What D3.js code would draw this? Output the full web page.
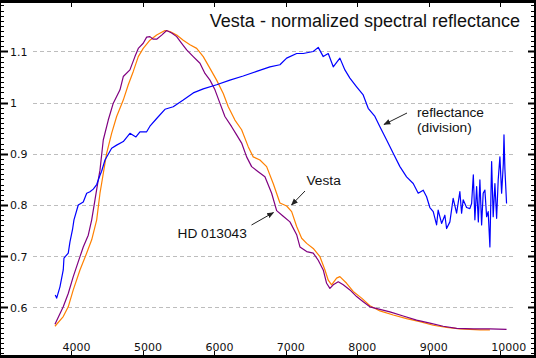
<!DOCTYPE html>
<html><head><meta charset="utf-8">
<script src="https://cdn.jsdelivr.net/npm/d3@7"></script>
<style>
html,body{margin:0;padding:0;background:#fff;}
svg{display:block;}
</style></head>
<body>
<svg id="chart" width="536" height="358"></svg>
<script>
// ---- data (wavelength in Å, normalized values) ----
const vestaWl = [3769,3885,3955,4025,4119,4213,4283,4353,4399,4422,4492,4562,4632,4725,4795,4865,4935,5004,5098,5192,5308,5378,5472,5564,5658,5752,5844,5938,6031,6124,6194,6287,6381,6473,6543,6637,6731,6823,6917,7011,7081,7151,7221,7291,7383,7477,7547,7593,7640,7710,7756,7850,7942,8060,8176,8316,8502,8689,8875,9062,9249,9435,9715,9855];
const vestaVal = [0.563,0.582,0.601,0.634,0.673,0.706,0.732,0.771,0.823,0.842,0.901,0.940,0.973,1.005,1.035,1.061,1.090,1.106,1.122,1.132,1.141,1.139,1.132,1.122,1.113,1.106,1.090,1.067,1.044,1.018,0.992,0.966,0.947,0.914,0.894,0.888,0.875,0.842,0.804,0.798,0.787,0.758,0.735,0.725,0.715,0.699,0.673,0.653,0.644,0.657,0.660,0.647,0.631,0.618,0.603,0.593,0.585,0.578,0.572,0.565,0.561,0.558,0.556,0.556];

const hdWl = [3769,3885,3955,4025,4119,4165,4235,4283,4329,4375,4399,4445,4515,4585,4679,4725,4818,4888,4935,5004,5052,5098,5144,5192,5262,5332,5402,5472,5542,5612,5704,5798,5868,5938,6008,6077,6147,6241,6311,6381,6451,6521,6613,6707,6801,6871,6963,7057,7151,7197,7291,7383,7453,7523,7570,7616,7663,7733,7803,7896,7990,8082,8176,8316,8456,8642,8829,9015,9201,9389,9621,9855,10088];
const hdVal = [0.567,0.601,0.627,0.660,0.699,0.718,0.741,0.771,0.810,0.849,0.868,0.927,0.966,0.999,1.025,1.051,1.064,1.090,1.106,1.116,1.128,1.129,1.124,1.124,1.132,1.141,1.136,1.129,1.116,1.103,1.090,1.077,1.057,1.044,1.025,0.999,0.973,0.953,0.937,0.921,0.894,0.875,0.865,0.855,0.823,0.789,0.778,0.767,0.742,0.718,0.709,0.706,0.692,0.673,0.647,0.637,0.644,0.650,0.644,0.634,0.621,0.611,0.601,0.596,0.591,0.583,0.575,0.569,0.563,0.559,0.558,0.558,0.557];

const reflWl = [3773,3793,3839,3885,3895,3955,3979,4017,4035,4095,4165,4213,4259,4305,4353,4399,4422,4469,4562,4632,4725,4818,4902,4958,5052,5098,5192,5308,5424,5564,5704,5844,6031,6217,6403,6591,6777,6917,7011,7151,7243,7383,7453,7523,7593,7663,7756,7826,7896,7990,8082,8152,8246,8316,8410,8502,8596,8689,8782,8852,8922,8969,9015,9062,9109,9131,9179,9225,9249,9295,9341,9389,9435,9459,9481,9529,9575,9599,9623,9645,9669,9693,9715,9739,9761,9785,9809,9831,9855,9879,9901,9925,9949,9971,9995,10019,10043,10052,10065,10088];
const reflVal = [0.624,0.618,0.640,0.673,0.696,0.706,0.728,0.754,0.771,0.800,0.806,0.823,0.826,0.831,0.840,0.858,0.866,0.888,0.911,0.917,0.924,0.940,0.933,0.943,0.943,0.954,0.969,0.987,0.992,1.005,1.019,1.027,1.035,1.044,1.052,1.061,1.070,1.074,1.087,1.096,1.096,1.100,1.108,1.090,1.096,1.070,1.087,1.064,1.048,1.031,1.015,0.989,0.973,0.953,0.927,0.901,0.875,0.855,0.842,0.823,0.829,0.816,0.795,0.787,0.761,0.790,0.764,0.780,0.754,0.767,0.813,0.784,0.826,0.784,0.810,0.795,0.793,0.803,0.859,0.771,0.836,0.767,0.849,0.761,0.823,0.829,0.777,0.787,0.718,0.885,0.777,0.842,0.774,0.849,0.894,0.823,0.881,0.937,0.870,0.803];

const xTicks = [4000,5000,6000,7000,8000,9000,10000];
const yTicks = [0.6,0.7,0.8,0.9,1.0,1.1];
const yTickLabels = ["0.6","0.7","0.8","0.9","1","1.1"];
const title = "Vesta - normalized spectral reflectance";

// ---- drawing ----
const W = 536, H = 358;
const svg = d3.select("#chart");
const x = d3.scaleLinear().domain([3000, 10500]).range([0, 536]);
const y = d3.scaleLinear().domain([0.5, 1.2]).range([358.5, 0.3]);

// defs: arrowhead
const defs = svg.append("defs");
defs.append("marker").attr("id","ah").attr("viewBox","0 0 10 10")
  .attr("refX",9).attr("refY",5).attr("markerWidth",7).attr("markerHeight",7)
  .attr("orient","auto").attr("markerUnits","userSpaceOnUse")
  .append("path").attr("d","M0,1 L10,5 L0,9 Z").attr("fill","#222");

// grid lines
svg.append("g").selectAll("line").data(yTicks).join("line")
  .attr("x1",33).attr("x2",515)
  .attr("y1",d=>Math.round(y(d))+0.5).attr("y2",d=>Math.round(y(d))+0.5)
  .attr("stroke","#bdbdbd").attr("stroke-width",1).attr("stroke-dasharray","4,3");

// y tick labels
svg.append("g").selectAll("text").data(yTicks).join("text")
  .attr("x",10).attr("y",d=>y(d)+4.5)
  .attr("font-family","DejaVu Sans, Verdana, sans-serif").attr("font-size",11)
  .attr("fill","#111")
  .text((d,i)=>yTickLabels[i]);

// x tick labels
svg.append("g").selectAll("text").data(xTicks).join("text")
  .attr("x",d=>x(d)-9).attr("y",350.5)
  .attr("font-family","DejaVu Sans, Verdana, sans-serif").attr("font-size",11)
  .attr("fill","#111")
  .text(d=>String(d));

// series
const line = d3.line().x(d=>x(d[0])).y(d=>y(d[1]));
const zipS = (a,b)=>a.map((v,i)=>[v,b[i]]);
const series = [
  {wl:vestaWl, v:vestaVal, c:"#ff8000"},
  {wl:hdWl, v:hdVal, c:"#800080"},
  {wl:reflWl, v:reflVal, c:"#0000ff"}
];
svg.append("g").selectAll("path").data(series).join("path")
  .attr("d",s=>line(zipS(s.wl,s.v)))
  .attr("fill","none").attr("stroke",s=>s.c).attr("stroke-width",1.2)
  .attr("stroke-linejoin","round");

// axis ticks (left minor/major, right, top, bottom)
const yMinor = d3.range(50,121).map(d=>d/100);
const yAx = svg.append("g").attr("stroke","#000");
yAx.selectAll("line.l").data(yMinor).join("line").attr("class","l")
  .attr("x1",0).attr("x2",d=>(Math.round(d*100)%10===0)?8:4)
  .attr("y1",d=>Math.round(y(d))+0.5).attr("y2",d=>Math.round(y(d))+0.5)
  .attr("stroke-width",d=>(Math.round(d*100)%10===0)?2:1);
yAx.selectAll("line.r").data(yMinor).join("line").attr("class","r")
  .attr("x2",534).attr("x1",d=>(Math.round(d*100)%10===0)?528:531)
  .attr("y1",d=>Math.round(y(d))+0.5).attr("y2",d=>Math.round(y(d))+0.5)
  .attr("stroke-width",d=>(Math.round(d*100)%10===0)?2:1);
const xAx = svg.append("g").attr("stroke","#000");
xAx.selectAll("line.t").data(xTicks).join("line").attr("class","t")
  .attr("x1",d=>Math.round(x(d))+0.5).attr("x2",d=>Math.round(x(d))+0.5)
  .attr("y1",3).attr("y2",7).attr("stroke-width",1);
xAx.selectAll("line.b").data(xTicks).join("line").attr("class","b")
  .attr("x1",d=>Math.round(x(d))+0.5).attr("x2",d=>Math.round(x(d))+0.5)
  .attr("y1",355).attr("y2",351).attr("stroke-width",1);

// frame
svg.append("rect").attr("x",0).attr("y",0).attr("width",W).attr("height",3).attr("fill","#000");
svg.append("rect").attr("x",0).attr("y",H-3).attr("width",W).attr("height",3).attr("fill","#000");
svg.append("rect").attr("x",0).attr("y",0).attr("width",1).attr("height",H).attr("fill","#000");
svg.append("rect").attr("x",W-2).attr("y",0).attr("width",2).attr("height",H).attr("fill","#000");

// title
svg.append("text").attr("x",520).attr("y",27).attr("text-anchor","end")
  .attr("font-family","Liberation Sans, Arial, sans-serif").attr("font-size",18)
  .attr("fill","#111").text(title);

// annotations
const ann = svg.append("g").attr("font-family","Liberation Sans, Arial, sans-serif")
  .attr("font-size",13.7).attr("fill","#111");
ann.append("text").attr("x",417).attr("y",117).text("reflectance");
ann.append("text").attr("x",417).attr("y",132).text("(division)");
ann.append("text").attr("x",306.5).attr("y",184.5).text("Vesta");
ann.append("text").attr("x",177.5).attr("y",237.5).text("HD 013043");

const arrows = [[407,113,384,124.5],[305,191,291.5,205],[251.5,225,273.5,212.5]];
svg.append("g").selectAll("line").data(arrows).join("line")
  .attr("x1",d=>d[0]).attr("y1",d=>d[1]).attr("x2",d=>d[2]).attr("y2",d=>d[3])
  .attr("stroke","#222").attr("stroke-width",1).attr("marker-end","url(#ah)");
</script>
</body></html>
